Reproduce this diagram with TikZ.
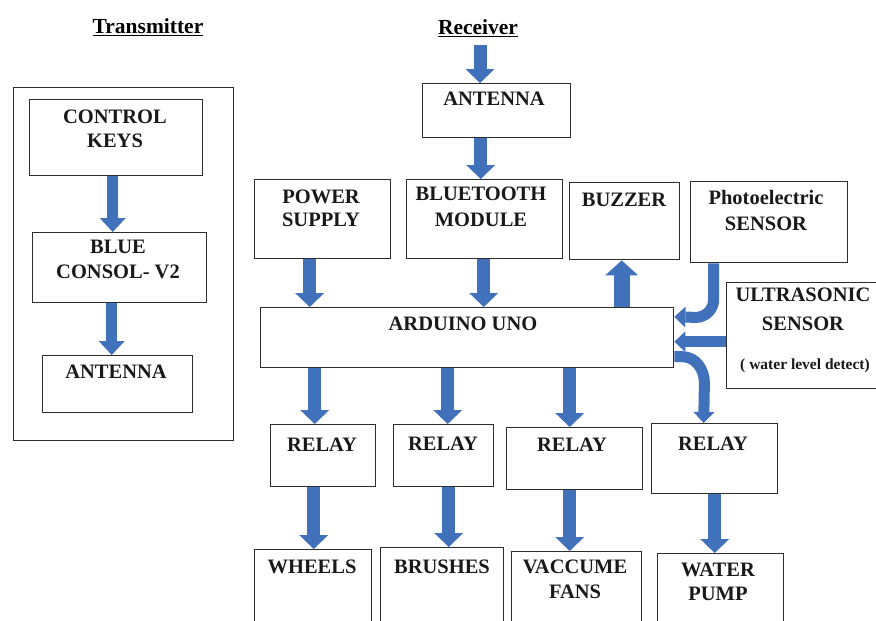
\documentclass[tikz,border=0pt]{standalone}
\usepackage{fontspec}
\setmainfont{Liberation Serif}
\usetikzlibrary{arrows.meta,calc}
\definecolor{arrblue}{RGB}{66,113,187}
\definecolor{boxgray}{RGB}{45,45,45}
\newcommand\lf[1]{\bfseries\fontsize{20.5}{#1}\selectfont}
\tikzset{
  box/.style={draw=boxgray, line width=1.4pt, fill=white, inner sep=0pt, anchor=north west},
  lbl/.style={font=\lf{24}, align=center, inner sep=0pt, anchor=north, text=black!90},
  ttl/.style={font=\bfseries\fontsize{21.5}{24}\selectfont, inner sep=0pt, anchor=north},
  arrT/.style={draw=arrblue, line width=11pt, -{Triangle[width=26pt 0 0,length=14pt 0 0,line width=0pt]}},
  arrR/.style={draw=arrblue, line width=13pt, -{Triangle[width=29pt 0 0,length=14pt 0 0,line width=0pt]}},
  arrB/.style={draw=arrblue, line width=16pt, -{Triangle[width=33pt 0 0,length=15pt 0 0,line width=0pt]}},
  arrC/.style={draw=arrblue, line width=11pt, -{Triangle[width=21pt 0 0,length=11pt 0 0,line width=0pt]}},
}
\begin{document}
\begin{tikzpicture}[x=1pt,y=-1pt]
\clip (0,0) rectangle (876,621);
\fill[white] (0,0) rectangle (876,621);

% titles
\node[ttl] (ttx) at (148,18) {\underline{Transmitter}};
\node[ttl] (trx) at (478,19) {\underline{Receiver}};

% transmitter
\node[box,minimum width=220pt,minimum height=353pt] (tx) at (13,87) {};
\node[box,minimum width=173pt,minimum height=76pt] (ck) at (29,99) {};
\node[box,minimum width=174pt,minimum height=70pt] (bc) at (32,232) {};
\node[box,minimum width=150pt,minimum height=57pt] (ta) at (42,355) {};
\node[lbl,font=\lf{23.5}] (ckt) at (115,110) {CONTROL\\KEYS};
\node[lbl,font=\lf{25}] (bct) at (118,240) {BLUE\\CONSOL- V2};
\node[lbl] (tat) at (116,365) {ANTENNA};

% receiver boxes
\node[box,minimum width=148pt,minimum height=54pt] (ra) at (422,83) {};
\node[box,minimum width=136pt,minimum height=79pt] (ps) at (254,179) {};
\node[box,minimum width=156pt,minimum height=79pt] (bt) at (406,179) {};
\node[box,minimum width=110pt,minimum height=77pt] (bz) at (569,182) {};
\node[box,minimum width=157pt,minimum height=81pt] (pe) at (690,181) {};
\node[box,minimum width=154pt,minimum height=106pt] (us) at (726,282) {};
\node[box,minimum width=413pt,minimum height=60pt] (ard) at (260,307) {};
\node[box,minimum width=105pt,minimum height=62pt] (r1) at (270,424) {};
\node[box,minimum width=100pt,minimum height=62pt] (r2) at (393,424) {};
\node[box,minimum width=136pt,minimum height=62pt] (r3) at (506,427) {};
\node[box,minimum width=126pt,minimum height=70pt] (r4) at (651,423) {};
\node[box,minimum width=117pt,minimum height=90pt] (wh) at (254,549) {};
\node[box,minimum width=123pt,minimum height=90pt] (br) at (380,547) {};
\node[box,minimum width=130pt,minimum height=90pt] (vf) at (511,551) {};
\node[box,minimum width=126pt,minimum height=90pt] (wp) at (657,553) {};

% receiver labels
\node[lbl] (rat) at (494,92) {ANTENNA};
\node[lbl,font=\lf{23}] (pst) at (321,190) {POWER\\SUPPLY};
\node[lbl,font=\lf{26}] (btt) at (481,187) {BLUETOOTH\\MODULE};
\node[lbl] (bzt) at (624,193) {BUZZER};
\node[lbl,font=\lf{26}] (pet) at (766,190) {Photoelectric\\SENSOR};
\node[lbl,font=\lf{29}] (ust) at (803,288) {ULTRASONIC\\SENSOR};
\node[lbl,font=\bfseries\fontsize{15.5}{18}\selectfont] (usd) at (805,359) {( water level detect)};
\node[lbl] (ardt) at (463,317) {ARDUINO UNO};
\node[lbl] (r1t) at (322,438) {RELAY};
\node[lbl] (r2t) at (443,437) {RELAY};
\node[lbl] (r3t) at (572,438) {RELAY};
\node[lbl] (r4t) at (713,437) {RELAY};
\node[lbl] (wht) at (312,560) {WHEELS};
\node[lbl] (brt) at (442,560) {BRUSHES};
\node[lbl,font=\lf{25}] (vft) at (575,560) {VACCUME\\FANS};
\node[lbl,font=\lf{24}] (wpt) at (718,563) {WATER\\PUMP};

% transmitter arrows
\draw[arrT] ([xshift=-3.5pt]ck.south) -- ([xshift=-3.5pt]ck.south |- bc.north);
\draw[arrT] ([xshift=-8pt]bc.south) -- ([xshift=-8pt]bc.south |- ta.north);

% receiver arrows
\coordinate (rin) at (480,45);
\draw[arrR] (rin) -- (rin |- ra.north);
\draw[arrR] ([xshift=-16pt]ra.south) -- ([xshift=-16pt]ra.south |- bt.north);
\draw[arrR] ([xshift=-13pt]ps.south) -- ([xshift=-13pt]ps.south |- ard.north);
\draw[arrR] ([xshift=-1pt]bt.south) -- ([xshift=-1pt]bt.south |- ard.north);
\draw[arrB] ([xshift=-3pt]bz.south |- ard.north) -- ([xshift=-3pt]bz.south);
\draw[arrC] ([xshift=-55.5pt]pe.south) -- ++(0,36) to[out=-90,in=0] ++(-18,18) -- ([yshift=21pt]ard.east);
\draw[arrC] ([yshift=-6pt]us.west) -- ([yshift=-6pt]us.west -| ard.east);
\draw[arrC] ([yshift=-19pt]ard.east) -- ++(8,0) to[out=0,in=90] ++(22,26) -- ([xshift=-11pt]r4.north);

\draw[arrR] ([xshift=-8.5pt]r1.north |- ard.south) -- ([xshift=-8.5pt]r1.north);
\draw[arrR] ([xshift=4pt]r2.north |- ard.south) -- ([xshift=4pt]r2.north);
\draw[arrR] ([xshift=-5pt]r3.north |- ard.south) -- ([xshift=-5pt]r3.north);

\draw[arrR] ([xshift=-9.5pt]r1.south) -- ([xshift=-9.5pt]r1.south |- wh.north);
\draw[arrR] ([xshift=5pt]r2.south) -- ([xshift=5pt]r2.south |- br.north);
\draw[arrR] ([xshift=-5pt]r3.south) -- ([xshift=-5pt]r3.south |- vf.north);
\draw[arrR] (r4.south) -- (r4.south |- wp.north);
\end{tikzpicture}
\end{document}
